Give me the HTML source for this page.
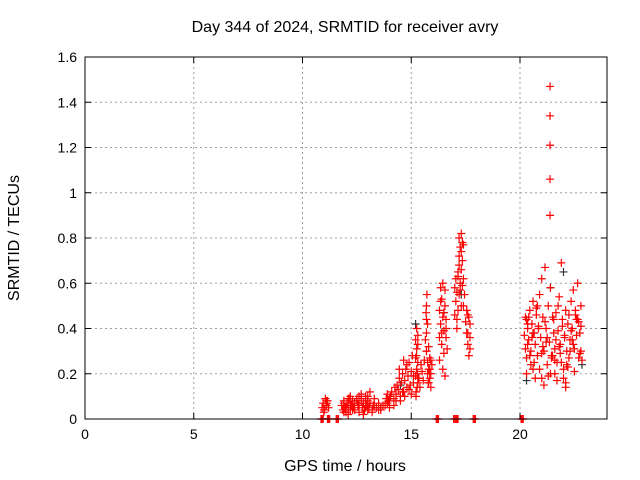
<!DOCTYPE html>
<html><head><meta charset="utf-8"><style>
body{margin:0;background:#fff}
svg{display:block;font-family:"Liberation Sans",sans-serif}
</style></head><body>
<svg id="chart" width="640" height="480" viewBox="0 0 640 480">
<rect width="640" height="480" fill="#fff"/>
<text x="345" y="32" font-size="16" text-anchor="middle">Day 344 of 2024, SRMTID for receiver avry</text>
<text x="345" y="471" font-size="16" text-anchor="middle">GPS time / hours</text>
<text x="19" y="238" font-size="16" text-anchor="middle" transform="rotate(-90 19 238)">SRMTID / TECUs</text>
<g id="grid"></g>
<g id="ticks"></g>
<g id="marks"></g>
<rect x="85" y="57" width="522" height="362" fill="none" stroke="#000" stroke-width="1"/>
</svg>
<script>
const xTicks=[0,5,10,15,20];
const yTicks=[0,0.2,0.4,0.6,0.8,1,1.2,1.4,1.6];
const yTickLabels=["0","0.2","0.4","0.6","0.8","1","1.2","1.4","1.6"];
const times=[10.9,10.95,11.0,11.05,11.1,11.15,11.2,10.98,11.08,11.12,
11.8,11.85,11.9,11.95,12.0,12.05,12.1,12.15,12.2,12.25,12.3,12.35,12.4,12.5,12.55,12.6,12.7,12.75,12.8,12.85,12.9,12.95,13.0,13.05,13.1,13.2,13.25,13.3,13.4,13.5,13.6,13.7,11.9,12.1,12.3,12.6,12.8,13.0,13.2,13.4,12.2,12.7,12.9,13.1,
13.8,13.85,13.9,13.95,14.0,14.05,14.1,14.2,14.25,14.3,14.35,14.4,14.45,14.5,14.55,14.6,14.65,14.7,14.75,14.8,14.85,14.9,14.95,15.0,15.05,15.1,14.5,14.6,14.7,14.8,14.9,15.0,15.1,14.45,14.65,
15.2,15.2,15.2,15.25,15.25,15.25,15.3,15.3,15.3,15.22,15.28,15.35,15.4,15.45,15.5,15.55,15.6,15.65,15.7,15.7,15.7,15.7,15.72,15.75,15.75,15.8,15.8,15.85,15.85,15.9,15.9,15.95,15.68,15.78,
16.3,16.3,16.35,16.35,16.4,16.4,16.45,16.45,16.5,16.5,16.55,16.55,16.6,16.6,16.65,16.3,16.45,16.55,
17.0,17.0,17.05,17.05,17.1,17.1,17.15,17.15,17.2,17.2,17.2,17.25,17.25,17.3,17.3,17.35,17.35,17.4,17.4,17.45,17.5,17.55,17.55,17.6,17.6,17.65,17.7,17.7,17.3,17.1,
20.2,20.25,20.3,20.3,20.35,20.4,20.45,20.5,20.55,20.6,20.65,20.7,20.75,20.8,20.85,20.9,20.95,21.0,21.05,21.1,21.15,21.2,21.25,21.3,21.35,21.4,21.45,21.5,21.55,21.6,21.65,21.7,21.75,21.8,21.85,21.9,21.95,22.0,22.05,22.1,22.15,22.2,22.25,22.3,22.35,22.4,22.45,22.5,22.55,22.6,22.65,22.7,22.75,22.8,22.85,
20.3,20.5,20.7,20.9,21.1,21.3,21.5,21.7,21.9,22.1,22.3,22.5,22.7,20.4,20.6,20.8,21.0,21.2,21.4,21.6,21.8,22.0,22.2,22.4,22.6,22.8,
21.38,21.38,21.38,21.38,21.38,
11.0,11.1,11.9,12.0,12.1,12.2,12.4,12.5,12.6,12.9,13.0,13.1,13.3,13.5,13.6,13.9,14.0,14.2,14.3,
15.22,15.27,15.32,15.24,15.3,15.75,15.8,15.85,15.9,15.7,
16.35,16.4,16.5,16.6,17.15,17.2,17.25,17.3,17.35,17.4,17.6,17.65,17.7,
20.25,20.35,20.45,20.55,20.65,20.75,20.85,21.05,21.15,21.25,21.45,21.55,21.65,21.75,21.85,21.95,22.05,22.15,22.25,22.35,22.45,22.55,22.65,22.75,22.8,20.35,20.6,21.0,21.6,22.1,
10.85,10.95,11.15,11.25,11.55,11.65,16.15,16.25,16.95,17.05,17.15,17.85,17.95,20.05,20.15,
10.9,11.2,11.6,16.2,17.0,17.1,17.9,20.1];
const srmtid=[0.05,0.07,0.04,0.09,0.06,0.08,0.05,0.03,0.06,0.07,
0.06,0.04,0.08,0.05,0.03,0.07,0.05,0.09,0.04,0.06,0.08,0.05,0.07,0.09,0.06,0.10,0.08,0.05,0.07,0.04,0.09,0.06,0.08,0.05,0.07,0.04,0.06,0.09,0.05,0.07,0.04,0.06,0.03,0.02,0.04,0.03,0.02,0.04,0.03,0.05,0.10,0.11,0.10,0.12,
0.06,0.09,0.11,0.08,0.05,0.10,0.12,0.09,0.14,0.11,0.15,0.13,0.18,0.10,0.16,0.20,0.12,0.17,0.22,0.14,0.19,0.25,0.15,0.21,0.28,0.16,0.08,0.12,0.10,0.24,0.13,0.11,0.19,0.22,0.26,
0.19,0.27,0.35,0.22,0.31,0.40,0.16,0.25,0.33,0.12,0.20,0.18,0.14,0.24,0.21,0.17,0.26,0.35,0.44,0.50,0.38,0.30,0.55,0.25,0.42,0.22,0.32,0.18,0.27,0.20,0.14,0.24,0.47,0.16,
0.36,0.48,0.42,0.58,0.33,0.53,0.45,0.60,0.29,0.39,0.50,0.57,0.36,0.44,0.31,0.26,0.22,0.19,
0.46,0.58,0.52,0.62,0.44,0.56,0.65,0.48,0.72,0.55,0.80,0.60,0.76,0.82,0.66,0.70,0.59,0.77,0.50,0.55,0.43,0.38,0.48,0.33,0.46,0.28,0.36,0.42,0.74,0.40,
0.37,0.31,0.44,0.27,0.40,0.35,0.48,0.30,0.42,0.52,0.38,0.33,0.46,0.28,0.41,0.55,0.36,0.62,0.45,0.30,0.67,0.40,0.24,0.50,0.34,0.58,0.28,0.45,0.38,0.31,0.47,0.25,0.39,0.54,0.33,0.69,0.44,0.22,0.36,0.48,0.30,0.42,0.27,0.35,0.52,0.40,0.57,0.31,0.46,0.37,0.60,0.43,0.29,0.41,0.26,
0.20,0.24,0.18,0.22,0.15,0.19,0.28,0.17,0.25,0.14,0.30,0.21,0.27,0.45,0.38,0.50,0.29,0.34,0.20,0.26,0.32,0.18,0.23,0.35,0.44,0.30,
0.90,1.06,1.21,1.34,1.47,
0.04,0.08,0.07,0.05,0.09,0.06,0.04,0.08,0.06,0.05,0.10,0.07,0.06,0.04,0.05,0.07,0.09,0.06,0.08,
0.10,0.14,0.18,0.28,0.37,0.20,0.16,0.22,0.26,0.30,
0.52,0.38,0.47,0.40,0.63,0.68,0.57,0.50,0.78,0.62,0.38,0.45,0.31,
0.45,0.42,0.28,0.36,0.25,0.49,0.40,0.32,0.43,0.36,0.27,0.44,0.35,0.50,0.29,0.41,0.37,0.24,0.46,0.39,0.33,0.48,0.44,0.38,0.50,0.33,0.22,0.18,0.20,0.16,
0,0,0,0,0,0,0,0,0,0,0,0,0,0,0,
0,0,0,0,0,0,0,0];
const blackTimes=[15.2,16.5,20.3,21.4,22.0,22.85,14.5,17.3];
const blackVals=[0.42,0.47,0.17,0.58,0.65,0.24,0.15,0.55];
const X0=85,X1=607,Y0=419,Y1=57,XMAX=24,YMAX=1.6;
const xs=v=>X0+(X1-X0)*v/XMAX, ys=v=>Y0-(Y0-Y1)*v/YMAX;
const NS="http://www.w3.org/2000/svg";
function mk(t,a,p){const e=document.createElementNS(NS,t);for(const k in a)e.setAttribute(k,a[k]);p.appendChild(e);return e;}
const grid=document.getElementById('grid'),ticks=document.getElementById('ticks'),marks=document.getElementById('marks');
xTicks.forEach(v=>{const x=xs(v);
 if(v>0){const g=mk('line',{x1:x,x2:x,y1:Y0,y2:Y1,stroke:'#a0a0a0','stroke-dasharray':'2,3'},grid);
 
 }
 mk('line',{x1:x,x2:x,y1:Y0,y2:Y0-6,stroke:'#000'},ticks);
 mk('line',{x1:x,x2:x,y1:Y1,y2:Y1+6,stroke:'#000'},ticks);
 const t=mk('text',{x:x,y:Y0+20,'font-size':14,'text-anchor':'middle'},ticks);t.textContent=v;
 
 });
yTicks.forEach((v,i)=>{const y=ys(v);
 if(v>0&&v<YMAX){const g=mk('line',{x1:X0,x2:X1,y1:y,y2:y,stroke:'#a0a0a0','stroke-dasharray':'2,3'},grid);
 
 }
 mk('line',{x1:X0,x2:X0+6,y1:y,y2:y,stroke:'#000'},ticks);
 mk('line',{x1:X1,x2:X1-6,y1:y,y2:y,stroke:'#000'},ticks);
 const t=mk('text',{x:X0-8,y:y+5,'font-size':14,'text-anchor':'end'},ticks);t.textContent=yTickLabels[i];
 
 });
function plus(t,v,c){const x=xs(t),y=ys(v);
 const p=mk('path',{d:`M${x-4},${y}h8M${x},${y-4}v8`,stroke:c,'stroke-width':1.2,fill:'none'},marks);return p;}
blackTimes.forEach((t,i)=>{const p=plus(t,blackVals[i],'#333');
 
 });
times.forEach((t,i)=>{const p=plus(t,srmtid[i],'#f00');
 
 });
</script>
</body></html>
